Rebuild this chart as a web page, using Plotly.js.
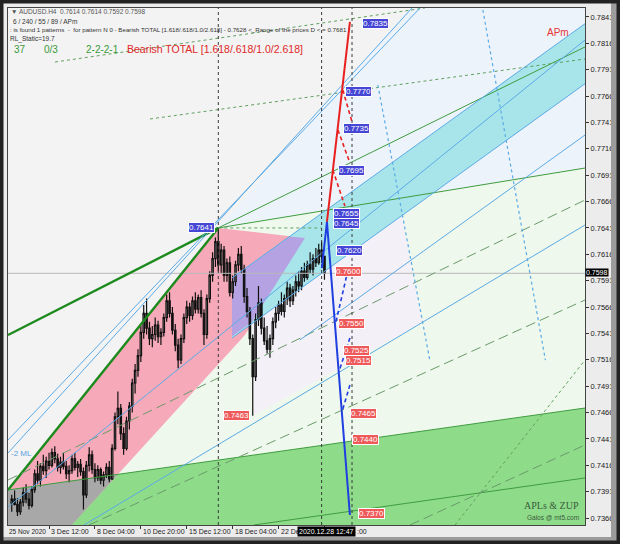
<!DOCTYPE html>
<html><head><meta charset="utf-8">
<script src="https://cdn.plot.ly/plotly-3.0.1.min.js"></script>
<style>html,body{margin:0;padding:0;background:#fff;}#chart{width:620px;height:544px;}</style>
</head><body><div id="chart"></div>
<script>
// ---------- candle data (AUDUSD H4) ----------
const openP = [0.7380,0.7384,0.7379,0.7372,0.7381,0.7390,0.7384,0.7378,0.7393,0.7408,
 0.7402,0.7415,0.7411,0.7420,0.7416,0.7428,0.7422,0.7414,0.7419,0.7415,
 0.7408,0.7411,0.7422,0.7414,0.7417,0.7410,0.7388,0.7416,0.7426,0.7412,
 0.7404,0.7412,0.7402,0.7407,0.7414,0.7403,0.7432,0.7462,0.7470,0.7446,
 0.7432,0.7458,0.7472,0.7494,0.7506,0.7520,0.7542,0.7560,0.7546,0.7536,
 0.7540,0.7549,0.7538,0.7542,0.7556,0.7572,0.7560,0.7544,0.7530,0.7516,
 0.7536,0.7556,0.7566,0.7558,0.7572,0.7564,0.7575,0.7560,0.7540,0.7574,
 0.7596,0.7612,0.7628,0.7606,0.7620,0.7596,0.7608,0.7580,0.7590,0.7606,
 0.7616,0.7602,0.7576,0.7562,0.7536,0.7500,0.7554,0.7570,0.7546,0.7534,
 0.7526,0.7536,0.7552,0.7560,0.7568,0.7562,0.7574,0.7584,0.7572,0.7582,
 0.7590,0.7586,0.7600,0.7594,0.7606,0.7602,0.7612,0.7608,0.7620,0.7614];
const highP = [0.7388,0.7392,0.7385,0.7384,0.7395,0.7398,0.7390,0.7396,0.7412,0.7420,
 0.7418,0.7426,0.7424,0.7428,0.7432,0.7434,0.7427,0.7424,0.7428,0.7420,
 0.7416,0.7426,0.7428,0.7420,0.7422,0.7414,0.7420,0.7433,0.7430,0.7418,
 0.7416,0.7414,0.7410,0.7418,0.7420,0.7436,0.7466,0.7486,0.7474,0.7452,
 0.7462,0.7476,0.7498,0.7512,0.7526,0.7548,0.7568,0.7574,0.7552,0.7548,
 0.7556,0.7553,0.7546,0.7560,0.7578,0.7580,0.7566,0.7550,0.7536,0.7540,
 0.7560,0.7572,0.7570,0.7576,0.7580,0.7578,0.7582,0.7564,0.7578,0.7600,
 0.7618,0.7632,0.7641,0.7626,0.7624,0.7612,0.7614,0.7596,0.7610,0.7622,
 0.7624,0.7606,0.7584,0.7566,0.7540,0.7560,0.7586,0.7574,0.7556,0.7548,
 0.7540,0.7556,0.7566,0.7572,0.7580,0.7578,0.7590,0.7588,0.7586,0.7596,
 0.7600,0.7604,0.7608,0.7610,0.7618,0.7616,0.7622,0.7626,0.7628,0.7614];
const lowP = [0.7372,0.7378,0.7368,0.7369,0.7377,0.7380,0.7374,0.7376,0.7390,0.7398,
 0.7396,0.7407,0.7404,0.7412,0.7414,0.7418,0.7410,0.7408,0.7412,0.7403,
 0.7400,0.7408,0.7411,0.7405,0.7406,0.7374,0.7385,0.7410,0.7408,0.7400,
 0.7401,0.7398,0.7396,0.7404,0.7400,0.7402,0.7430,0.7455,0.7440,0.7426,
 0.7430,0.7450,0.7466,0.7484,0.7500,0.7514,0.7536,0.7540,0.7530,0.7528,
 0.7534,0.7532,0.7530,0.7538,0.7552,0.7556,0.7540,0.7524,0.7508,0.7512,
 0.7532,0.7550,0.7552,0.7554,0.7560,0.7560,0.7556,0.7530,0.7536,0.7570,
 0.7590,0.7604,0.7600,0.7598,0.7590,0.7590,0.7576,0.7574,0.7586,0.7600,
 0.7598,0.7570,0.7556,0.7530,0.7463,0.7496,0.7548,0.7540,0.7530,0.7522,
 0.7518,0.7530,0.7546,0.7553,0.7558,0.7556,0.7568,0.7566,0.7568,0.7576,
 0.7580,0.7582,0.7590,0.7592,0.7598,0.7596,0.7604,0.7606,0.7608,0.7592];
const closeP = [0.7384,0.7379,0.7372,0.7381,0.7390,0.7384,0.7378,0.7393,0.7408,0.7402,
 0.7415,0.7411,0.7420,0.7416,0.7428,0.7422,0.7414,0.7419,0.7415,0.7408,
 0.7411,0.7422,0.7414,0.7417,0.7410,0.7388,0.7416,0.7426,0.7412,0.7404,
 0.7412,0.7402,0.7407,0.7414,0.7403,0.7432,0.7462,0.7470,0.7446,0.7432,
 0.7458,0.7472,0.7494,0.7506,0.7520,0.7542,0.7560,0.7546,0.7536,0.7540,
 0.7549,0.7538,0.7542,0.7556,0.7572,0.7560,0.7544,0.7530,0.7516,0.7536,
 0.7556,0.7566,0.7558,0.7572,0.7564,0.7575,0.7560,0.7540,0.7574,0.7596,
 0.7612,0.7628,0.7606,0.7620,0.7596,0.7608,0.7580,0.7590,0.7606,0.7616,
 0.7602,0.7576,0.7562,0.7536,0.7500,0.7554,0.7570,0.7546,0.7534,0.7526,
 0.7536,0.7552,0.7560,0.7568,0.7562,0.7574,0.7584,0.7572,0.7582,0.7590,
 0.7586,0.7600,0.7594,0.7606,0.7602,0.7612,0.7608,0.7620,0.7614,0.7598];

// ---------- axes ----------
const xTickBars = [13, 29, 45, 61, 77, 93, 109];
const xTickText = ['3 Dec 12:00','8 Dec 04:00','10 Dec 20:00','15 Dec 12:00','18 Dec 04:00','22 De',''];
const priceTicks = [0.7366,0.7391,0.7416,0.7441,0.7466,0.7491,0.7516,0.7541,0.7566,0.7591,
 0.7616,0.7641,0.7666,0.7691,0.7716,0.7741,0.7766,0.7791,0.7816,0.7841];
const barRange = [-1.3, 199.8];
const priceRange = [0.73594, 0.78495];
const currentPrice = 0.7598;

// ---------- pattern points & projection levels ----------
const peakBar = 72, peakPrice = 0.7641;
const lowBar = 84, lowPrice = 0.7463;
const verticalBars = [72, 108, 118.6];
const bearLevels = [0.7835, 0.7770, 0.7735, 0.7695, 0.7655, 0.7645, 0.7620];
const bearLabelBars = [122.1, 116.1, 115.4, 113.7, 111.9, 111.9, 113.0];
const bullLevels = [0.7600, 0.7550, 0.7525, 0.7515, 0.7465, 0.7440, 0.7370];
const bullLabelBars = [112.6, 113.7, 115.4, 116.1, 117.9, 118.6, 120.7];

// ---------- filled zones (bar index, price) ----------
const zoneLightBlueX = [72, 138.8, 199.8, 199.8];
const zoneLightBlueY = [0.7641, 0.78495, 0.78495, 0.76978];
const zoneLightGreenX = [36.97, 81.29, 102.2, 72, 199.8, 199.8];
const zoneLightGreenY = [0.74074, 0.75395, 0.76315, 0.7641, 0.76978, 0.74703];
const zoneLavenderX = [84.4, 83.8, 136.0, 143.0];
const zoneLavenderY = [0.74637, 0.75521, 0.76527, 0.75514];
const zoneGreenX = [-1.3, -1.3, 199.8, 199.8];
const zoneGreenY = [0.73594, 0.73926, 0.74703, 0.73594];
const zonePinkX = [-1.3, -1.3, 72, 102.2, 81.29, 20.9];
const zonePinkY = [0.73594, 0.73926, 0.7641, 0.76315, 0.75395, 0.73594];
const zoneGrayX = [-1.3, -1.3, 36.97, 20.9];
const zoneGrayY = [0.73594, 0.73926, 0.74074, 0.73594];
const zoneCyanX = [76.76, 199.8, 199.8, 76.76];
const zoneCyanY = [0.75936, 0.78346, 0.77777, 0.75367];
const zonePurpleX = [76.76, 96.93, 102.2, 83.8, 76.76];
const zonePurpleY = [0.75936, 0.76328, 0.76315, 0.75521, 0.75382];

// ---------- trend lines ----------
const thickGreenLines = [[[-1.3, 72],[0.73926, 0.7641]], [[-1.3, 72],[0.75395, 0.7641]]];
const thinGreenLines = [[[72,199.8],[0.7641,0.76978]], [[72,199.8],[0.7641,0.78126]],
  [[-1.3,199.8],[0.73926,0.74703]], [[84.4,199.8],[0.73594,0.7404]]];
const dashGreenLines = [[[-1.3,199.8],[0.74021,0.76675]], [[26.9,199.8],[0.73594,0.75727]], [[138.8,199.8],[0.73594,0.74353]]];
const dotGreenLines = [[[154.5,199.8],[0.73594,0.75158]], [[15.1,144.0],[0.77983,0.78495]],
  [[48.2,199.8],[0.77443,0.78012]], [[72,108],[0.7641,0.7641]]];
const blueLines = [[[-1.3,139.5],[0.74277,0.78495]], [[-1.3,142.3],[0.7440,0.78495]],
  [[-1.3,199.8],[0.73765,0.78192]], [[76.76,199.8],[0.75936,0.78346]], [[76.76,199.8],[0.75367,0.77777]],
  [[25.2,199.8],[0.73594,0.76438]], [[100.45,199.8],[0.75348,0.77291]]];
const dotBlueLines = [[[164.2,186.0],[0.78476,0.75158]], [[127.6,145.7],[0.77765,0.75158]]];
const redSolid = [[109.86,117.87],[0.76467,0.78363]];
const redDashed = [[[115.4,118.6],[0.77718,0.77415]], [[113.7,117.87],[0.77339,0.77026]], [[111.9,116.1],[0.7696,0.76618]]];
const blueSolid = [[108.1,109.86,117.87],[0.7603,0.76467,0.73689]];
const blueDashed = [[[117.2,113.0],[0.76012,0.75519]], [[117.87,114.0],[0.75367,0.75045]], [[117.87,115.1],[0.74921,0.74666]]];

// ---------- build ----------
const bars = closeP.map((_, i) => i);
const traces = [];
function line(pair, color, width, dash) {
  traces.push({type:'scatter', mode:'lines', x:pair[0], y:pair[1], hoverinfo:'skip',
    line:{color:color, width:width, dash:dash||'solid'}, showlegend:false});
}
traces.push({type:'candlestick', x:bars, open:openP, high:highP, low:lowP, close:closeP,
  increasing:{line:{color:'#111', width:1.2}, fillcolor:'#e8e8e8'},
  decreasing:{line:{color:'#111', width:1.2}, fillcolor:'#111'},
  whiskerwidth:0, showlegend:false, hoverinfo:'skip'});
line([barRange,[currentPrice,currentPrice]], '#b8b8b8', 1);
thickGreenLines.forEach(p => line(p, '#1d8a1d', 2.4));
thinGreenLines.forEach(p => line(p, '#3f9c3f', 1));
dashGreenLines.forEach(p => line(p, '#6a9a6a', 1, '10px,5px'));
dotGreenLines.forEach(p => line(p, '#5f9f5f', 1, 'dot'));
blueLines.forEach(p => line(p, '#5aaae6', 1));
dotBlueLines.forEach(p => line(p, '#5aaae6', 1.2, 'dot'));
verticalBars.forEach(b => line([[b,b], priceRange], '#3a3a3a', 1, 'dot'));
line(redSolid, '#e82020', 2);
redDashed.forEach(p => line(p, '#e82020', 1.6, '4px,3px'));
line(blueSolid, '#1f3fe0', 2);
blueDashed.forEach(p => line(p, '#1f3fe0', 1.6, '4px,3px'));

function zone(xs, ys, color) {
  let d = 'M' + xs.map((x, i) => x + ',' + ys[i]).join(' L') + ' Z';
  return {type:'path', path:d, xref:'x', yref:'y', fillcolor:color, line:{width:0}, layer:'below'};
}
const shapes = [
  zone(zoneLightBlueX, zoneLightBlueY, '#edf3fb'),
  zone(zoneLightGreenX, zoneLightGreenY, '#eef8ec'),
  zone(zoneLavenderX, zoneLavenderY, '#f4f0f8'),
  zone(zoneGreenX, zoneGreenY, '#8edc8a'),
  zone(zonePinkX, zonePinkY, '#f6a9b8'),
  zone(zoneGrayX, zoneGrayY, '#a8a8a8'),
  zone(zoneCyanX, zoneCyanY, '#a8e5ea'),
  zone(zonePurpleX, zonePurpleY, '#b4a2e2'),
  // frame (decoration)
  {type:'rect', xref:'paper', yref:'paper', x0:1.0451, x1:1.07, y0:-0.05, y1:1.03, fillcolor:'#9c9c9c', line:{width:0}, layer:'above'},
  {type:'rect', xref:'paper', yref:'paper', x0:-0.03, x1:1.07, y0:-0.05, y1:-0.0232, fillcolor:'#9c9c9c', line:{width:0}, layer:'above'},
  {type:'rect', xref:'paper', yref:'paper', x0:-0.01386, x1:1.0607, y0:-0.03675, y1:1.01547, line:{color:'#222', width:7}, layer:'above'}
];

const F = 'Liberation Sans, Arial, sans-serif';
const ann = [];
function pxX(x){ return (x-8)/577; }
function pxY(y){ return 1-(y-8)/517; }
function txt(t, x, y, size, color, extra) {
  ann.push(Object.assign({text:t, xref:'paper', yref:'paper', x:pxX(x), y:pxY(y), xanchor:'left', yanchor:'middle',
    showarrow:false, font:{family:F, size:size, color:color}}, extra||{}));
}
txt('▼ AUDUSD.H4  0.7614 0.7614 0.7592 0.7598', 9, 11, 6.5, '#555');
txt('6 / 240 / 55 / 89 / APm', 11, 21, 6.5, '#333');
txt(': is found 1 patterns  -  for pattern N 0 - Bearish TOTAL [1.618/.618/1.0/2.618] - 0.7628 <_Range of the prices D < = 0.7681', 8, 30, 6.2, '#333');
txt('RL_Static=19.7', 8, 39, 6.5, '#333');
txt('37', 12, 49, 10, '#3a9a3a');
txt('0/3', 42, 49, 10, '#3a9a3a');
txt('2-2-2-1', 84, 49, 10, '#3a9a3a');
txt('Bearish TOTAL [1.618/.618/1.0/2.618]', 125, 49, 10.5, '#e02828');
txt('APm', 545, 33, 10, '#e53535');
txt('-2 ML', 9, 453, 8, '#5aa0e0');
txt('APLs &amp; ZUP', 551, 505, 10, '#3b5b3b', {xanchor:'center', font:{family:'Liberation Serif, serif', size:10, color:'#3b5b3b'}});
txt('Galos @ mt5.com', 553, 517, 6.5, '#3b5b3b', {xanchor:'center'});
txt('25 Nov 2020', 7, 531, 6.5, '#222');
xTickBars.forEach((b, i) => {
  if (!xTickText[i]) return;
  ann.push({text:xTickText[i], x:b, xref:'x', y:pxY(531), yref:'paper', xanchor:'left', yanchor:'middle', xshift:0,
    showarrow:false, font:{family:F, size:7, color:'#222'}});
});
txt('2020.12.28 12:47', 326, 531, 7, '#fff', {xanchor:'center', bgcolor:'#000', borderpad:1});
txt(':00', 355, 531, 7, '#222');

function lvl(price, bar, bg, anchor) {
  ann.push({text:price.toFixed(4), x:bar, y:price, xref:'x', yref:'y', xanchor:anchor||'left', yanchor:'middle',
    showarrow:false, bgcolor:bg, bordercolor:'#ffffff', borderwidth:1, borderpad:0,
    font:{family:F, size:8, color:'#fff'}});
}
bearLevels.forEach((p, i) => lvl(p, bearLabelBars[i], '#4646d6'));
bullLevels.forEach((p, i) => lvl(p, bullLabelBars[i], '#ee5a5a'));
lvl(peakPrice, 70.8, '#4646d6', 'right');
lvl(lowPrice, 83.0, '#ee5a5a', 'right');
ann.push({text:currentPrice.toFixed(4), x:1.0, y:currentPrice, xref:'paper', yref:'y', xanchor:'left', yanchor:'bottom', yshift:-4,
  showarrow:false, bgcolor:'#000', font:{family:F, size:7, color:'#fff'}, borderpad:0});

const layout = {
  width:620, height:544, margin:{l:8, r:35, t:8, b:19},
  paper_bgcolor:'#ececec', plot_bgcolor:'#f3f3f3', showlegend:false,
  xaxis:{range:barRange, showgrid:false, zeroline:false, rangeslider:{visible:false},
    tickvals:xTickBars, ticks:'outside', ticklen:3, tickcolor:'#333', showticklabels:false,
    showline:true, linecolor:'#444', mirror:true},
  yaxis:{range:priceRange, side:'right', showgrid:false, zeroline:false,
    tickvals:priceTicks, ticktext:priceTicks.map(v => v.toFixed(4)), ticks:'outside', ticklen:3, tickcolor:'#333',
    tickfont:{family:F, size:7.5, color:'#222'}, showline:true, linecolor:'#444', mirror:true},
  shapes:shapes, annotations:ann
};
Plotly.newPlot('chart', traces, layout, {staticPlot:true, displayModeBar:false});
</script></body></html>
